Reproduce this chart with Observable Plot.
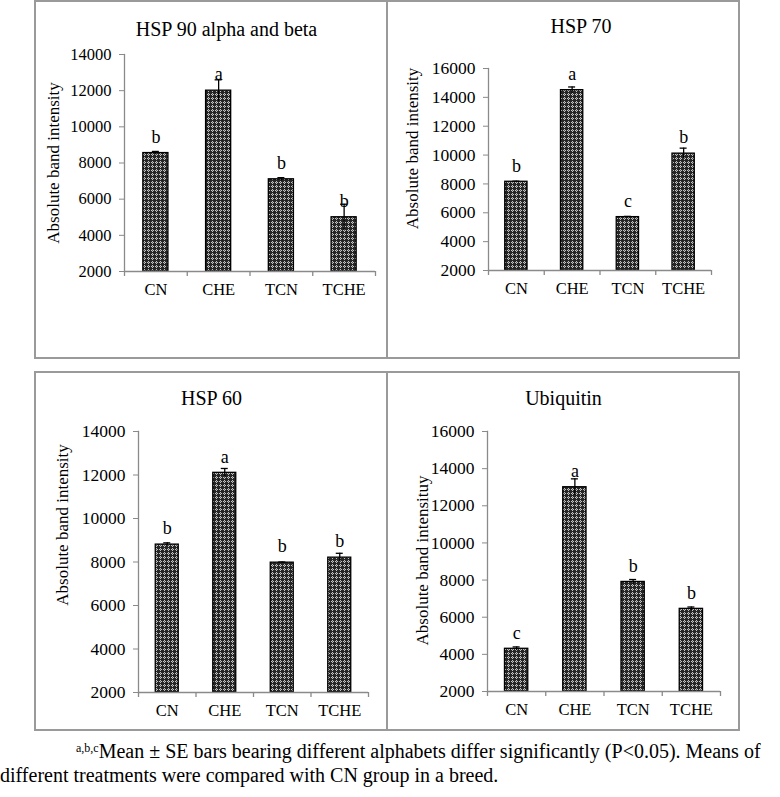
<!DOCTYPE html>
<html><head><meta charset="utf-8">
<script src="https://cdn.jsdelivr.net/npm/d3@7"></script>
<script src="https://cdn.jsdelivr.net/npm/@observablehq/plot@0.6"></script>
<style>
body{margin:0;background:#fff;font-family:"Liberation Serif","Times New Roman",serif;}
#root{position:relative;width:780px;height:797px;overflow:hidden;background:#fff;}
.box{position:absolute;box-sizing:border-box;border:2px solid #9a9a9a;}
.panel{position:absolute;}
.note{position:absolute;left:0;top:739px;width:780px;font-size:20px;line-height:24px;color:#000;white-space:nowrap;}
.note sup{font-size:12px;vertical-align:6px;line-height:0;}
</style></head><body>
<svg width="0" height="0" style="position:absolute">
  <defs>
    <pattern id="hatch" width="4" height="4" patternUnits="userSpaceOnUse">
      <rect width="4" height="4" fill="#262626"/>
      <rect x="0" y="1" width="3" height="1" fill="#c4c4c4"/>
      <rect x="1" y="0" width="1" height="3" fill="#c4c4c4"/>
      <rect x="1" y="1" width="1" height="1" fill="#5a5a5a"/>
    </pattern>
  </defs>
</svg>
<div id="root">
  <div class="box" style="left:34px;top:0px;width:354px;height:359px"></div>
  <div class="box" style="left:386px;top:0px;width:354px;height:359px"></div>
  <div class="box" style="left:34px;top:371px;width:354px;height:360px"></div>
  <div class="box" style="left:386px;top:371px;width:354px;height:360px"></div>
  <div class="panel" id="p1" style="left:35px;top:1px"></div>
  <div class="panel" id="p2" style="left:387px;top:1px"></div>
  <div class="panel" id="p3" style="left:35px;top:372px"></div>
  <div class="panel" id="p4" style="left:387px;top:372px"></div>
  <div class="note"><span style="padding-left:76px"></span><sup>a,b,c</sup>Mean ± SE bars bearing different alphabets differ significantly (P&lt;0.05). Means of<br>different treatments were compared with CN group in a breed.</div>
</div>
<script>
// ---- data ----
const categories = ["CN", "CHE", "TCN", "TCHE"];

const hsp90Title = "HSP 90 alpha and beta";
const hsp90Values = [8550, 12000, 7100, 5000];
const hsp90Errors = [90, 600, 90, 720];
const hsp90Letters = ["b", "a", "b", "b"];
const hsp90Ticks = [2000, 4000, 6000, 8000, 10000, 12000, 14000];

const hsp70Title = "HSP 70";
const hsp70Values = [8150, 14500, 5700, 10100];
const hsp70Errors = [40, 220, 50, 380];
const hsp70Letters = ["b", "a", "c", "b"];
const hsp70Ticks = [2000, 4000, 6000, 8000, 10000, 12000, 14000, 16000];

const hsp60Title = "HSP 60";
const hsp60Values = [8800, 12100, 7970, 8200];
const hsp60Errors = [80, 200, 30, 200];
const hsp60Letters = ["b", "a", "b", "b"];
const hsp60Ticks = [2000, 4000, 6000, 8000, 10000, 12000, 14000];

const ubqTitle = "Ubiquitin";
const ubqValues = [4300, 13000, 7900, 6450];
const ubqErrors = [100, 450, 130, 100];
const ubqLetters = ["c", "a", "b", "b"];
const ubqTicks = [2000, 4000, 6000, 8000, 10000, 12000, 14000, 16000];

const yLabelStd = "Absolute band intensity";
const yLabelUbq = "Absolute band intensituy";

// ---- drawing ----
const GRAY = "#8a8a8a";
const SERIF = "'Liberation Serif','Times New Roman',serif";
function panel(cfg) {
  const {ml, mr, mt, mb, width, height, ticks} = cfg;
  const yDomain = [ticks[0], ticks[ticks.length - 1]];
  const data = categories.map((c, i) => ({cat: c, v: cfg.values[i], e: cfg.errors[i], l: cfg.letters[i]}));
  const innerW = width - ml - mr, innerH = height - mt - mb;
  const step = innerW / categories.length;
  const bw = step * 0.4;
  const capInset = (bw - 7) / 2;
  const tickLen = (yDomain[1] - yDomain[0]) * 5 / innerH;
  const lastCat = categories.slice(-1);
  return Plot.plot({
    width, height, marginLeft: ml, marginRight: mr, marginTop: mt, marginBottom: mb,
    style: {fontFamily: SERIF, fontSize: "16px", background: "transparent", overflow: "visible", color: "#000"},
    x: {domain: categories, paddingInner: 0.6, paddingOuter: 0.3, round: false},
    y: {domain: yDomain},
    marks: [
      Plot.barY(data, {x: "cat", y1: yDomain[0], y2: "v", fill: "url(#hatch)", stroke: "#000", strokeWidth: 1.3}),
      Plot.ruleX(data, {x: "cat", y1: d => d.v - d.e, y2: d => d.v + d.e, stroke: "#000", strokeWidth: 1.3}),
      Plot.tickY(data, {x: "cat", y: d => d.v + d.e, insetLeft: capInset, insetRight: capInset, stroke: "#000", strokeWidth: 1.3}),
      Plot.text(data, {x: "cat", y: "v", text: "l", dy: -16, fontSize: 18, fontFamily: SERIF, lineAnchor: "middle"}),
      Plot.ruleY([yDomain[0]], {stroke: GRAY, strokeWidth: 1.3}),
      Plot.frame({anchor: "left", stroke: GRAY, strokeWidth: 1.3}),
      Plot.ruleX(categories, {x: d => d, y1: yDomain[0], y2: yDomain[0] - tickLen, dx: -step / 2, stroke: GRAY, strokeWidth: 1.3}),
      Plot.ruleX(lastCat, {x: d => d, y1: yDomain[0], y2: yDomain[0] - tickLen, dx: step / 2, stroke: GRAY, strokeWidth: 1.3}),
      Plot.axisY({ticks, tickSize: 5, stroke: GRAY, label: null, tickFormat: () => ""}),
      Plot.text(ticks, {y: d => d, text: d => String(d), frameAnchor: "left", dx: -13, textAnchor: "end", lineAnchor: "middle", fontSize: cfg.tickFont, fontFamily: SERIF, fill: "#000"}),
      Plot.axisX({tickSize: 0, tickPadding: 12, fontSize: 16.5, fontFamily: SERIF, fill: "#000", label: null}),
      Plot.text([cfg.title], {text: d => d, frameAnchor: "top", dx: cfg.tdx, dy: cfg.tdy, fontSize: 20, fontFamily: SERIF, lineAnchor: "middle", textAnchor: "middle"}),
      Plot.text([cfg.ylabel], {text: d => d, frameAnchor: "left", rotate: -90, dx: cfg.ldx, dy: cfg.ldy, fontSize: 17, fontFamily: SERIF, lineAnchor: "middle", textAnchor: "middle"})
    ]
  });
}

document.getElementById("p1").append(panel({
  title: hsp90Title, values: hsp90Values, errors: hsp90Errors, letters: hsp90Letters, ticks: hsp90Ticks, ylabel: yLabelStd,
  width: 352, height: 357, ml: 89, mr: 12, mt: 53, mb: 87, tickFont: 16.5,
  tdx: -23.5, tdy: -25, ldx: -70.5, ldy: 0
}));
document.getElementById("p2").append(panel({
  title: hsp70Title, values: hsp70Values, errors: hsp70Errors, letters: hsp70Letters, ticks: hsp70Ticks, ylabel: yLabelStd,
  width: 352, height: 357, ml: 101, mr: 28, mt: 67, mb: 88, tickFont: 17.5,
  tdx: -19, tdy: -42, ldx: -76, ldy: -21
}));
document.getElementById("p3").append(panel({
  title: hsp60Title, values: hsp60Values, errors: hsp60Errors, letters: hsp60Letters, ticks: hsp60Ticks, ylabel: yLabelStd,
  width: 352, height: 358, ml: 103, mr: 19, mt: 59, mb: 38, tickFont: 17.5,
  tdx: -42, tdy: -33, ldx: -75.5, ldy: -37
}));
document.getElementById("p4").append(panel({
  title: ubqTitle, values: ubqValues, errors: ubqErrors, letters: ubqLetters, ticks: ubqTicks, ylabel: yLabelUbq,
  width: 352, height: 358, ml: 100, mr: 19, mt: 59, mb: 39, tickFont: 17.5,
  tdx: -40.5, tdy: -33, ldx: -65, ldy: -1
}));
</script>
</body></html>
